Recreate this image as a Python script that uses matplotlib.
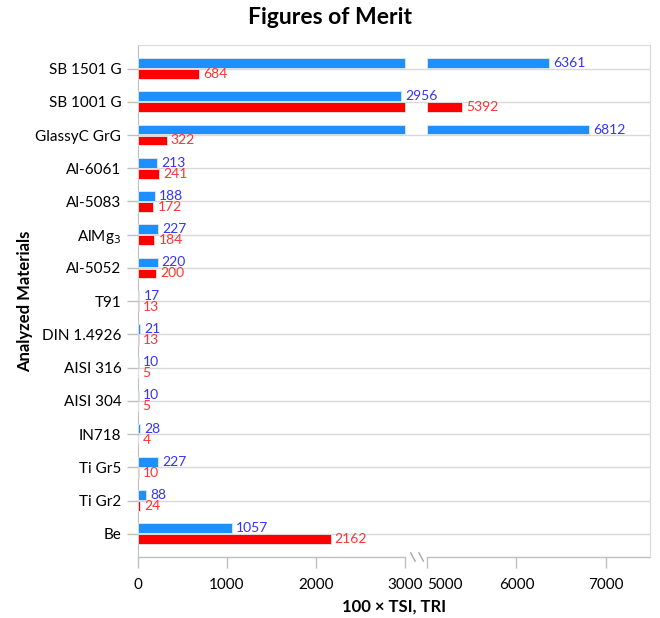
import matplotlib
matplotlib.use('Agg')
import matplotlib.pyplot as plt
import matplotlib.transforms as mtransforms

plt.rcParams['font.family'] = ['Lato', 'DejaVu Sans']

materials = ['SB 1501 G', 'SB 1001 G', 'GlassyC GrG', 'Al-6061', 'Al-5083', 'AlMg$_3$',
             'Al-5052', 'T91', 'DIN 1.4926', 'AISI 316', 'AISI 304', 'IN718',
             'Ti Gr5', 'Ti Gr2', 'Be']
tsi = [6361, 2956, 6812, 213, 188, 227, 220, 17, 21, 10, 10, 28, 227, 88, 1057]
tri = [684, 5392, 322, 241, 172, 184, 200, 13, 13, 5, 5, 4, 10, 24, 2162]
xticks = [0, 1000, 2000, 3000, 5000, 6000, 7000]

# broken x axis: 3000 .. 5000 is cut out
BRK_LO = 3000
BRK_HI = 5000
GAP = 250
XMAX = 7500

def brk(v):
    if v <= BRK_LO:
        return v
    return v - BRK_HI + BRK_LO + GAP

blue = '#1E8FFF'
red = '#FF0000'
blue_txt = '#3333FF'
red_txt = '#FF3333'
grid = '#D9D9D9'
h = 0.29

fig = plt.figure(figsize=(6.6, 6.18), dpi=100)
ax = fig.add_axes([0.209, 0.0987, 0.776, 0.828])

n = len(materials)
ys = [n - 1 - i for i in range(n)]

def draw_bar(y, v, color, tcolor):
    if v > BRK_LO:
        ax.barh(y, BRK_LO, height=h, left=0, color=color, edgecolor='#E6E6E6', linewidth=0.6, zorder=3)
        ax.barh(y, v - BRK_HI, height=h, left=brk(BRK_HI), color=color, edgecolor='#E6E6E6', linewidth=0.6, zorder=3)
    else:
        ax.barh(y, v, height=h, left=0, color=color, edgecolor='#E6E6E6', linewidth=0.6, zorder=3)
    ax.annotate(str(v), (brk(v), y), xytext=(3, 0), textcoords='offset points',
                va='center', ha='left', color=tcolor, fontsize=10)

for y, a, b in zip(ys, tsi, tri):
    draw_bar(y + h / 2 + 0.02, a, blue, blue_txt)
    draw_bar(y - h / 2 - 0.02, b, red, red_txt)

ax.set_xlim(0, brk(XMAX))
ax.set_ylim(-0.7, n - 1 + 0.7)
ax.set_yticks(ys)
ax.set_yticklabels(materials, fontsize=11)
ax.set_xticks([brk(t) for t in xticks])
ax.set_xticklabels([str(t) for t in xticks], fontsize=11)
for lab in ax.get_xticklabels():
    if lab.get_text() == '5000':
        lab.set_ha('left')
ax.grid(axis='y', color=grid, linewidth=1, zorder=0)
ax.tick_params(axis='both', color='#BFBFBF', length=8, width=1, pad=4)
ax.tick_params(axis='x', pad=7)

for s in ['top', 'right']:
    ax.spines[s].set_color(grid)
ax.spines['left'].set_color('#BFBFBF')
ax.spines['bottom'].set_visible(False)

# bottom axis line in two pieces plus break marks
trans = mtransforms.blended_transform_factory(ax.transData, ax.transAxes)
ax.plot([0, BRK_LO], [0, 0], color='#BFBFBF', lw=1, transform=trans, clip_on=False)
ax.plot([brk(BRK_HI), brk(XMAX)], [0, 0], color='#BFBFBF', lw=1, transform=trans, clip_on=False)
for c in [BRK_LO + GAP * 0.35, BRK_LO + GAP * 0.72]:
    ax.plot([c - 25, c + 25], [0.008, -0.008], color='#A6A6A6', lw=1, transform=trans, clip_on=False)

fig.text(0.5, 0.972, 'Figures of Merit', fontsize=16.5, fontweight='bold', ha='center', va='center')
ax.set_xlabel('100 × TSI, TRI', fontsize=12, fontweight='bold', labelpad=5)
ax.set_ylabel('Analyzed Materials', fontsize=12, fontweight='bold', labelpad=2)

fig.savefig('out.png', dpi=100)
